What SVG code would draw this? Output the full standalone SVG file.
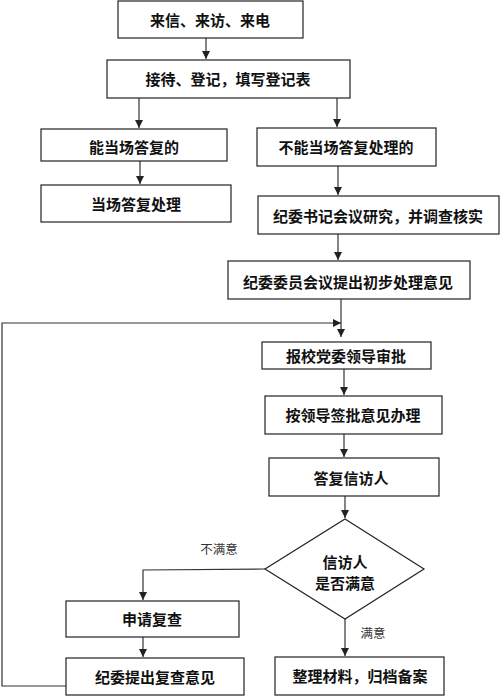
<svg xmlns="http://www.w3.org/2000/svg" width="500" height="697" viewBox="0 0 500 697">
<defs>
<marker id="ah" viewBox="0 0 10 10" refX="10" refY="5" markerWidth="8" markerHeight="8" markerUnits="userSpaceOnUse" orient="auto">
<path d="M0,0 L10,5 L0,10 z" fill="#222"/>
</marker>
</defs>
<style>
.box{fill:#fff;stroke:#222;stroke-width:1.2}
.t{font-family:"Noto Sans CJK SC","Liberation Sans",sans-serif;font-size:15px;font-weight:bold;fill:#111;text-anchor:middle;dominant-baseline:central}
.lbl{font-family:"Noto Sans CJK SC","Liberation Sans",sans-serif;font-size:12.5px;fill:#333;text-anchor:middle;dominant-baseline:central}
.c{fill:none;stroke:#333;stroke-width:1.2}
.ca{fill:none;stroke:#333;stroke-width:1.2;marker-end:url(#ah)}
</style>
<rect width="500" height="697" fill="#fff"/>
<g id="connectors">
<line class="ca" x1="206" y1="38" x2="206" y2="59"/>
<line class="ca" x1="139" y1="98" x2="139" y2="128"/>
<line class="ca" x1="337" y1="98" x2="337" y2="127"/>
<line class="ca" x1="140" y1="161" x2="140" y2="184"/>
<line class="ca" x1="338" y1="166" x2="338" y2="195"/>
<line class="ca" x1="338" y1="234" x2="338" y2="260"/>
<line class="ca" x1="341" y1="299" x2="341" y2="337"/>
<polyline class="ca" points="66,686 2,686 2,323 341,323"/>
<line class="ca" x1="344" y1="369" x2="344" y2="395"/>
<line class="ca" x1="344" y1="434" x2="344" y2="457"/>
<line class="ca" x1="345" y1="496" x2="345" y2="518"/>
<polyline class="ca" points="265,569 143,570 143,600"/>
<line class="ca" x1="143" y1="637" x2="143" y2="657"/>
<line class="ca" x1="345" y1="619" x2="345" y2="656"/>
<text class="lbl" x="219" y="548">不满意</text>
<text class="lbl" x="373" y="632">满意</text>
</g>
<g id="n1"><rect class="box" x="118" y="1" width="185" height="37"/><text class="t" x="210" y="19">来信、来访、来电</text></g>
<g id="n2"><rect class="box" x="107" y="60" width="243" height="38"/><text class="t" x="228" y="78">接待、登记，填写登记表</text></g>
<g id="n3"><rect class="box" x="41" y="129" width="186" height="32"/><text class="t" x="134" y="146">能当场答复的</text></g>
<g id="n4"><rect class="box" x="257" y="128" width="179" height="38"/><text class="t" x="346" y="146">不能当场答复处理的</text></g>
<g id="n5"><rect class="box" x="41" y="185" width="190" height="37"/><text class="t" x="136" y="203">当场答复处理</text></g>
<g id="n6"><rect class="box" x="258" y="196" width="241" height="38"/><text class="t" x="378" y="215">纪委书记会议研究，并调查核实</text></g>
<g id="n7"><rect class="box" x="228" y="261" width="242" height="38"/><text class="t" x="348" y="281">纪委委员会议提出初步处理意见</text></g>
<g id="n8"><rect class="box" x="262" y="342" width="169" height="27"/><text class="t" x="346" y="355">报校党委领导审批</text></g>
<g id="n9"><rect class="box" x="265" y="396" width="177" height="38"/><text class="t" x="353" y="414">按领导签批意见办理</text></g>
<g id="n10"><rect class="box" x="269" y="458" width="170" height="38"/><text class="t" x="351" y="477">答复信访人</text></g>
<g id="n11"><polygon class="box" points="345,519 424,569 345,619 265,569"/><text class="t" x="345" y="561">信访人</text><text class="t" x="345" y="582">是否满意</text></g>
<g id="n12"><rect class="box" x="66" y="601" width="173" height="36"/><text class="t" x="152" y="618">申请复查</text></g>
<g id="n13"><rect class="box" x="66" y="658" width="178" height="37"/><text class="t" x="155" y="676">纪委提出复查意见</text></g>
<g id="n14"><rect class="box" x="275" y="657" width="169" height="38"/><text class="t" x="360" y="675">整理材料，归档备案</text></g>
</svg>
